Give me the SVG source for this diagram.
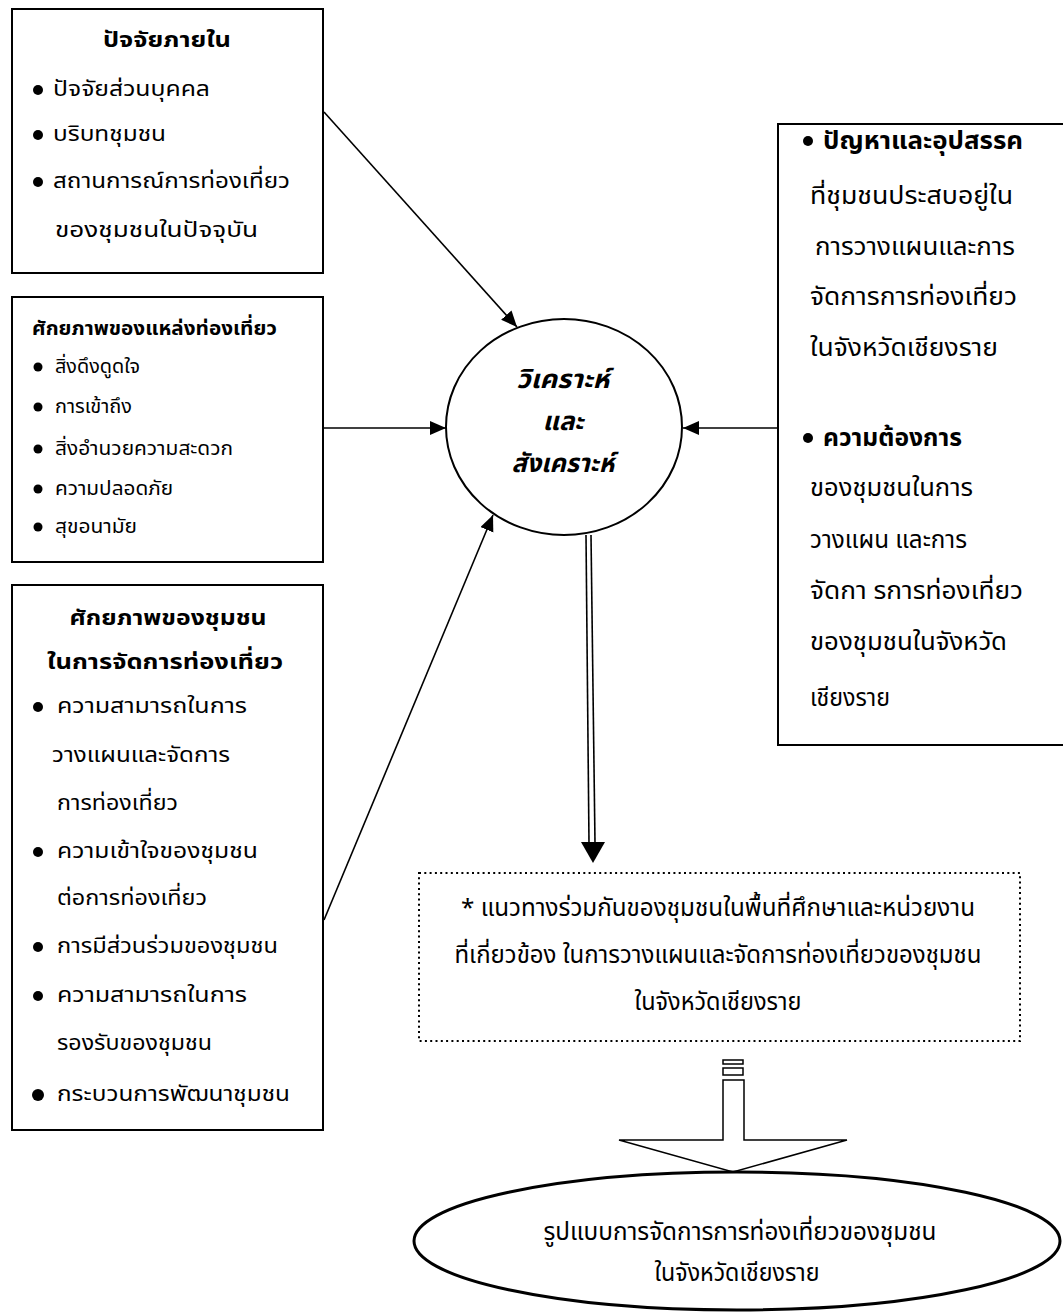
<svg xmlns="http://www.w3.org/2000/svg" width="1063" height="1313" viewBox="0 0 1063 1313">
<style>
.box{fill:#fff;stroke:#000;stroke-width:2}
.t{font-family:"Noto Sans Thai","Noto Sans",sans-serif;fill:#000}
.b{font-weight:bold}
.s1{font-size:22px}
.s2{font-size:20px}
.s3{font-size:22px}
.s4{font-size:24px}
.s5{font-size:24px}
.c{text-anchor:middle}
.ln{fill:none;stroke:#000;stroke-width:1.6}
.dot{fill:#000}
</style>
<defs>
<marker id="ah" markerUnits="userSpaceOnUse" markerWidth="17" markerHeight="15" refX="16" refY="7" orient="auto">
<path d="M0,0 L16,7 L0,14 z" fill="#000"/>
</marker>
</defs>
<rect width="1063" height="1313" fill="#fff"/>

<g id="connectors">
<line class="ln" x1="324" y1="112" x2="517" y2="327" marker-end="url(#ah)"/>
<line class="ln" x1="324" y1="428" x2="446" y2="428" marker-end="url(#ah)"/>
<line class="ln" x1="778" y1="428" x2="683" y2="428" marker-end="url(#ah)"/>
<line class="ln" x1="324" y1="920" x2="493" y2="515" marker-end="url(#ah)"/>
<line class="ln" x1="586" y1="535" x2="589" y2="843" stroke-width="2"/>
<line class="ln" x1="591" y1="535" x2="595" y2="843" stroke-width="2"/>
<path d="M581,842 L605,842 L593,863 z" fill="#000"/>
<rect x="723" y="1060" width="20" height="4" fill="#fff" stroke="#000" stroke-width="1.5"/>
<rect x="723" y="1068" width="20" height="7" fill="#fff" stroke="#000" stroke-width="1.5"/>
<path d="M723,1080 L744,1080 L744,1140 L847,1140 L733,1172 L619,1140 L723,1140 z" fill="#fff" stroke="#000" stroke-width="1.5"/>
</g>

<g id="n1">
<rect class="box" x="12" y="9" width="311" height="264"/>
<text class="t b s1 c" x="167" y="47" textLength="128" lengthAdjust="spacingAndGlyphs">ปัจจัยภายใน</text>
<circle class="dot" cx="38" cy="90" r="5"/>
<text class="t s1" x="53" y="96" textLength="157" lengthAdjust="spacingAndGlyphs">ปัจจัยส่วนบุคคล</text>
<circle class="dot" cx="38" cy="135" r="5"/>
<text class="t s1" x="53" y="141" textLength="113" lengthAdjust="spacingAndGlyphs">บริบทชุมชน</text>
<circle class="dot" cx="38" cy="182" r="5"/>
<text class="t s1" x="53" y="188" textLength="237" lengthAdjust="spacingAndGlyphs">สถานการณ์การท่องเที่ยว</text>
<text class="t s1" x="55" y="237" textLength="203" lengthAdjust="spacingAndGlyphs">ของชุมชนในปัจจุบัน</text>
</g>

<g id="n2">
<rect class="box" x="12" y="297" width="311" height="265"/>
<text class="t b s2" x="32" y="335" textLength="245" lengthAdjust="spacingAndGlyphs">ศักยภาพของแหล่งท่องเที่ยว</text>
<circle class="dot" cx="38" cy="367" r="4.5"/>
<text class="t s2" x="55" y="373" textLength="85" lengthAdjust="spacingAndGlyphs">สิ่งดึงดูดใจ</text>
<circle class="dot" cx="38" cy="407" r="4.5"/>
<text class="t s2" x="55" y="413" textLength="77" lengthAdjust="spacingAndGlyphs">การเข้าถึง</text>
<circle class="dot" cx="38" cy="449" r="4.5"/>
<text class="t s2" x="55" y="455" textLength="178" lengthAdjust="spacingAndGlyphs">สิ่งอำนวยความสะดวก</text>
<circle class="dot" cx="38" cy="489" r="4.5"/>
<text class="t s2" x="55" y="495" textLength="118" lengthAdjust="spacingAndGlyphs">ความปลอดภัย</text>
<circle class="dot" cx="38" cy="527" r="4.5"/>
<text class="t s2" x="55" y="533" textLength="82" lengthAdjust="spacingAndGlyphs">สุขอนามัย</text>
</g>

<g id="n3">
<rect class="box" x="12" y="585" width="311" height="545"/>
<text class="t b s3 c" x="168" y="625" textLength="197" lengthAdjust="spacingAndGlyphs">ศักยภาพของชุมชน</text>
<text class="t b s3 c" x="165" y="669" textLength="236" lengthAdjust="spacingAndGlyphs">ในการจัดการท่องเที่ยว</text>
<circle class="dot" cx="38" cy="707" r="5"/>
<text class="t s3" x="57" y="713" textLength="190" lengthAdjust="spacingAndGlyphs">ความสามารถในการ</text>
<text class="t s3" x="52" y="762" textLength="178" lengthAdjust="spacingAndGlyphs">วางแผนและจัดการ</text>
<text class="t s3" x="57" y="810" textLength="121" lengthAdjust="spacingAndGlyphs">การท่องเที่ยว</text>
<circle class="dot" cx="38" cy="852" r="5"/>
<text class="t s3" x="57" y="858" textLength="201" lengthAdjust="spacingAndGlyphs">ความเข้าใจของชุมชน</text>
<text class="t s3" x="57" y="905" textLength="150" lengthAdjust="spacingAndGlyphs">ต่อการท่องเที่ยว</text>
<circle class="dot" cx="38" cy="947" r="5"/>
<text class="t s3" x="57" y="953" textLength="221" lengthAdjust="spacingAndGlyphs">การมีส่วนร่วมของชุมชน</text>
<circle class="dot" cx="38" cy="996" r="5"/>
<text class="t s3" x="57" y="1002" textLength="190" lengthAdjust="spacingAndGlyphs">ความสามารถในการ</text>
<text class="t s3" x="57" y="1050" textLength="155" lengthAdjust="spacingAndGlyphs">รองรับของชุมชน</text>
<circle class="dot" cx="38" cy="1095" r="6"/>
<text class="t s3" x="57" y="1101" textLength="233" lengthAdjust="spacingAndGlyphs">กระบวนการพัฒนาชุมชน</text>
</g>

<g id="n4">
<rect class="box" x="778" y="124" width="292" height="621"/>
<circle class="dot" cx="808" cy="141" r="5"/>
<text class="t b s4" x="823" y="149" textLength="200" lengthAdjust="spacingAndGlyphs">ปัญหาและอุปสรรค</text>
<text class="t s4" x="810" y="204" textLength="203" lengthAdjust="spacingAndGlyphs">ที่ชุมชนประสบอยู่ใน</text>
<text class="t s4" x="815" y="255" textLength="200" lengthAdjust="spacingAndGlyphs">การวางแผนและการ</text>
<text class="t s4" x="810" y="305" textLength="207" lengthAdjust="spacingAndGlyphs">จัดการการท่องเที่ยว</text>
<text class="t s4" x="810" y="356" textLength="188" lengthAdjust="spacingAndGlyphs">ในจังหวัดเชียงราย</text>
<circle class="dot" cx="808" cy="438" r="5"/>
<text class="t b s4" x="823" y="446" textLength="139" lengthAdjust="spacingAndGlyphs">ความต้องการ</text>
<text class="t s4" x="810" y="496" textLength="163" lengthAdjust="spacingAndGlyphs">ของชุมชนในการ</text>
<text class="t s4" x="810" y="548" textLength="157" lengthAdjust="spacingAndGlyphs">วางแผน และการ</text>
<text class="t s4" x="810" y="599" textLength="213" lengthAdjust="spacingAndGlyphs">จัดกา รการท่องเที่ยว</text>
<text class="t s4" x="810" y="650" textLength="197" lengthAdjust="spacingAndGlyphs">ของชุมชนในจังหวัด</text>
<text class="t s4" x="810" y="706" textLength="80" lengthAdjust="spacingAndGlyphs">เชียงราย</text>
</g>

<g id="n5">
<ellipse cx="564" cy="427" rx="118" ry="108" fill="#fff" stroke="#000" stroke-width="2"/>
<text class="t b c" font-size="26" font-style="italic" x="563" y="388" textLength="93" lengthAdjust="spacingAndGlyphs">วิเคราะห์</text>
<text class="t b c" font-size="26" font-style="italic" x="563" y="430" textLength="41" lengthAdjust="spacingAndGlyphs">และ</text>
<text class="t b c" font-size="26" font-style="italic" x="563" y="472" textLength="103" lengthAdjust="spacingAndGlyphs">สังเคราะห์</text>
</g>

<g id="n6">
<rect x="419" y="873" width="601" height="168" fill="#fff" stroke="#000" stroke-width="2" stroke-dasharray="2 3.3"/>
<text class="t s5 c" x="718" y="916" textLength="514" lengthAdjust="spacingAndGlyphs">* แนวทางร่วมกันของชุมชนในพื้นที่ศึกษาและหน่วยงาน</text>
<text class="t s5 c" x="718" y="963" textLength="527" lengthAdjust="spacingAndGlyphs">ที่เกี่ยวข้อง ในการวางแผนและจัดการท่องเที่ยวของชุมชน</text>
<text class="t s5 c" x="718" y="1010" textLength="167" lengthAdjust="spacingAndGlyphs">ในจังหวัดเชียงราย</text>
</g>

<g id="n7">
<ellipse cx="737" cy="1241" rx="323" ry="69" fill="#fff" stroke="#000" stroke-width="3"/>
<text class="t s5 c" x="740" y="1240" textLength="393" lengthAdjust="spacingAndGlyphs">รูปแบบการจัดการการท่องเที่ยวของชุมชน</text>
<text class="t s5 c" x="737" y="1281" textLength="165" lengthAdjust="spacingAndGlyphs">ในจังหวัดเชียงราย</text>
</g>
</svg>
